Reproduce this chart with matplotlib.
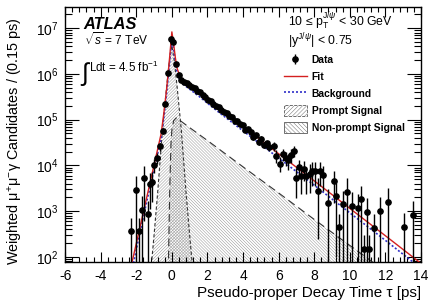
import matplotlib
matplotlib.use('Agg')
from matplotlib import pyplot as plt
from matplotlib import patches
from matplotlib.lines import Line2D
from matplotlib.ticker import MultipleLocator, LogLocator, NullFormatter

plt.rcParams['font.family'] = ['Liberation Sans', 'DejaVu Sans']
plt.rcParams['mathtext.fontset'] = 'custom'
plt.rcParams['mathtext.rm'] = 'Liberation Sans'
plt.rcParams['mathtext.it'] = 'Liberation Sans:italic'
plt.rcParams['mathtext.bf'] = 'Liberation Sans:bold'
plt.rcParams['axes.unicode_minus'] = False
plt.rcParams['hatch.linewidth'] = 0.3

# ---- data points (tau [ps], weighted candidates, error) ----
data_t = [-2.30, -2.02, -1.85, -1.70, -1.55, -1.36, -1.25, -1.13, -0.99, -0.82,
          -0.66, -0.52, -0.37, -0.22, -0.075, 0.075, 0.225, 0.375, 0.525,
          0.675, 0.825, 0.975, 1.125, 1.275, 1.425, 1.575, 1.725, 1.875, 2.025,
          2.175, 2.325, 2.475, 2.625, 2.775, 2.925, 3.075, 3.225, 3.375, 3.525,
          3.675, 3.825, 3.975, 4.125, 4.275, 4.425, 4.575, 4.725, 4.875, 5.025,
          5.175, 5.325, 5.475,
          5.72, 5.87, 6.06, 6.24, 6.39, 6.52, 6.71, 6.85, 6.96, 7.14,
          7.28, 7.43, 7.56, 7.75, 7.90, 8.03, 8.21, 8.35, 8.50, 8.78,
          9.10, 9.25, 9.40, 9.62, 9.85, 10.15, 10.47, 10.62, 10.79, 10.94,
          11.09, 11.35, 11.69, 12.14, 13.06, 13.53]
data_n = [360, 2950, 360, 1050, 5200, 850, 3900, 4400, 10200, 14500,
          26000, 57000, 220000, 1050000, 5900000, 5000000, 1650000, 940000, 740000,
          676000, 631000, 575000, 525000, 500000, 417000, 398000, 339000, 316000, 275000,
          251000, 224000, 204000, 186000, 166000, 148000, 141000, 120000, 112000, 95500,
          95500, 79400, 75900, 60300, 63100, 52500, 41700, 45700, 33100, 38000,
          28200, 30200, 25100,
          26900, 16200, 11000, 17800, 14800, 12900, 17000, 20900, 5400, 9300,
          5900, 8500, 5900, 6500, 7600, 7600, 2750, 7600, 6200, 1500,
          4500, 2100, 440, 1400, 2600, 1300, 1200, 1800, 150, 980,
          150, 430, 1000, 1600, 460, 830]
data_e = [360, 2950, 360, 1050, 4600, 850, 2800, 2800, 3500, 4000,
          5000, 8000, 15000, 30000, 80000, 80000, 40000, 30000, 25000,
          20000, 19000, 17000, 16000, 15000, 13000, 12000, 11000, 10000, 9000,
          9000, 8000, 8000, 8000, 7500, 7000, 7000, 7000, 6500, 6500,
          6500, 6000, 6000, 5500, 5500, 5500, 5000, 5000, 5000, 5000,
          4500, 4500, 4500,
          6000, 5000, 4000, 5000, 5000, 5000, 5500, 6000, 3500, 4000,
          3500, 4000, 3500, 4000, 4000, 4000, 2500, 4000, 3500, 1500,
          3000, 2000, 440, 1400, 2600, 1300, 1200, 1800, 150, 980,
          150, 430, 1000, 1600, 460, 830]

# ---- fitted components ----
fit_t = [-2.30, -1.8, -1.4, -1.0, -0.75, -0.6, -0.45, -0.3, -0.15, 0.0, 0.1, 0.2,
         0.3, 0.45, 0.6, 1.5, 2.5, 4.0, 6.0, 8.0, 10.0, 12.0, 13.8, 14.0]
fit_n = [60, 430, 2100, 10200, 27500, 50000, 1.4e5, 4.5e5, 1.8e6, 8.3e6, 4.5e6, 2.2e6,
         1.3e6, 9.1e5, 7.6e5, 4.1e5, 2.0e5, 7.2e4, 1.8e4, 4600, 1150, 290, 83, 72]
bkg_t = [-2.20, -1.8, -1.4, -1.0, -0.75, -0.6, -0.45, -0.3, -0.15, 0.0, 0.1, 0.2,
         0.3, 0.45, 0.6, 1.5, 2.5, 4.0, 6.0, 8.0, 10.0, 12.0, 13.5, 14.0]
bkg_n = [60, 340, 1700, 8200, 22000, 40000, 1.1e5, 3.6e5, 1.4e6, 6.0e6, 3.5e6, 1.7e6,
         1.05e6, 7.3e5, 6.1e5, 3.3e5, 1.6e5, 5.7e4, 1.45e4, 3700, 920, 230, 80, 57]
prompt_t = [-1.18, -1.0, -0.8, -0.53, -0.3, -0.15, 0.0, 0.15, 0.3, 0.53, 0.8, 1.0, 1.18]
prompt_n = [50, 300, 2500, 60000, 5e5, 1.8e6, 4.2e6, 1.8e6, 5e5, 60000, 2500, 300, 50]
nonprompt_t = [-0.2, -0.12, -0.05, 0.0, 0.1, 0.25, 1.0, 2.0, 4.0, 6.0, 8.0, 10.0, 11.0, 11.6]
nonprompt_n = [50, 3000, 30000, 60000, 95000, 1.1e5, 67000, 35000, 9300, 2500, 660, 178, 93, 62]

legend_labels = ['Data', 'Fit', 'Background', 'Prompt Signal', 'Non-prompt Signal']

fig = plt.figure(figsize=(4.34, 3.06), dpi=100)
ax = fig.add_axes([0.150, 0.144, 0.820, 0.833])
ax.set_yscale('log')

hatch_np = '\\' * 11
hatch_pr = '/' * 11

# hatched signal components
ax.fill_between(nonprompt_t, 1, nonprompt_n, facecolor='none', edgecolor='0.5',
                hatch=hatch_np, linewidth=0, zorder=1)
ax.plot(nonprompt_t, nonprompt_n, color='0.2', lw=0.8, dashes=(7, 4), zorder=2)
ax.fill_between(prompt_t, 1, prompt_n, facecolor='none', edgecolor='0.5',
                hatch=hatch_pr, linewidth=0, zorder=1)
ax.plot(prompt_t, prompt_n, color='0.2', lw=0.8, dashes=(3, 2), zorder=2)

ax.plot(bkg_t, bkg_n, color='#3030c8', ls=(0, (1.2, 1.2)), lw=1.2, zorder=3)
ax.plot(fit_t, fit_n, color='#d42020', lw=1.0, zorder=4)

data_h = ax.errorbar(data_t, data_n, yerr=data_e, fmt='o', color='black', ms=3.8,
                     elinewidth=1.0, capsize=0, zorder=5)

ax.set_xlim(-6, 14)
ax.set_ylim(77.6, 2.9e7)

ax.xaxis.set_major_locator(MultipleLocator(2))
ax.xaxis.set_minor_locator(MultipleLocator(0.4))
ax.yaxis.set_major_locator(LogLocator(base=10, numticks=12))
ax.yaxis.set_minor_locator(LogLocator(base=10, subs=range(2, 10), numticks=12))
ax.yaxis.set_minor_formatter(NullFormatter())
ax.tick_params(which='both', direction='in', top=True, right=True, width=0.8,
               labelsize=10)
ax.xaxis.set_tick_params(which='major', length=7, pad=5)
ax.xaxis.set_tick_params(which='minor', length=3.5)
ax.yaxis.set_tick_params(which='major', length=10, pad=5)
ax.yaxis.set_tick_params(which='minor', length=5)
for s in ax.spines.values():
    s.set_linewidth(1.0)

ax.set_ylabel('Weighted \u03bc$^{+}$\u03bc$^{-}$\u03b3 Candidates / (0.15 ps)', size=10.4)
ax.yaxis.set_label_coords(-0.112, 0.475)
ax.set_xlabel('Pseudo-proper Decay Time \u03c4 [ps]', size=11, ha='right')
ax.xaxis.set_label_coords(1.0, -0.095)

# labels
ax.text(0.05, 0.912, 'ATLAS', weight='bold', style='italic', size=11.8,
        transform=ax.transAxes)
ax.text(0.053, 0.851, r'$\sqrt{s}$ = 7 TeV', size=8.6, transform=ax.transAxes)
ax.text(0.046, 0.71, '\u222b', size=18, transform=ax.transAxes)
ax.text(0.067, 0.745, r'Ldt = 4.5 fb$^{-1}$', size=8.4, transform=ax.transAxes)
ax.text(0.626, 0.925, '10 \u2264 p$_{\\mathrm{T}}^{\\mathrm{J}/\\psi}$ < 30 GeV', size=8.8,
        transform=ax.transAxes)
ax.text(0.626, 0.848, r'|y$^{\mathrm{J}/\psi}$| < 0.75', size=8.8, transform=ax.transAxes)

fit_h = Line2D([], [], color='#d42020', lw=1.0)
bkg_h = Line2D([], [], color='#3030c8', ls=(0, (1.2, 1.2)), lw=1.2)
pr_h = patches.Patch(facecolor='white', edgecolor='0.35', hatch='/' * 8, ls='--', lw=0.6)
np_h = patches.Patch(facecolor='white', edgecolor='0.35', hatch='\\' * 8, lw=0.6)
ax.legend([data_h, fit_h, bkg_h, pr_h, np_h], legend_labels, loc='upper left',
          bbox_to_anchor=(0.615, 0.815), frameon=False,
          prop={'weight': 'bold', 'size': 7.4}, handlelength=2.2, handleheight=1.3,
          labelspacing=0.55, handletextpad=0.5, borderaxespad=0, borderpad=0)

fig.savefig('out.png', dpi=100)
